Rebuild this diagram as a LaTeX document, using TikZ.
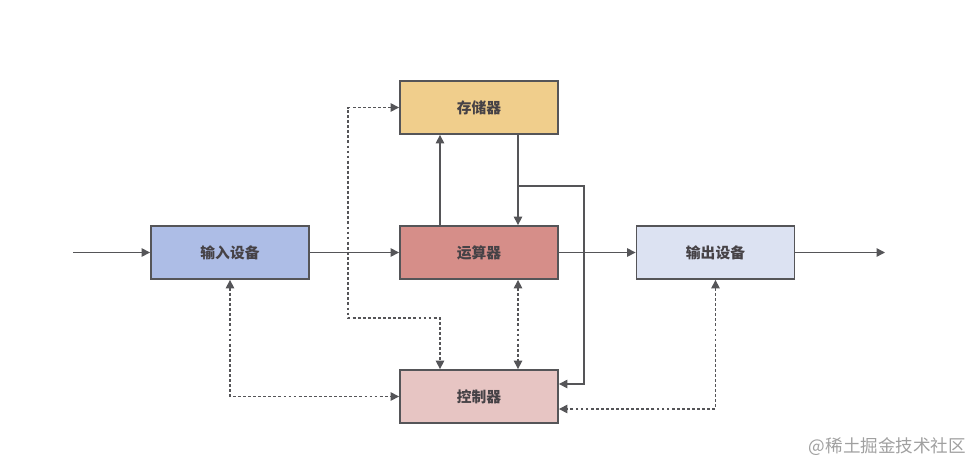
\documentclass[tikz,border=0pt]{standalone}
\usepackage{fontspec}
\setmainfont{Noto Sans CJK SC}
\usetikzlibrary{arrows.meta}

\newcommand{\sidegap}{0.975cm}
\newcommand{\busgap}{0.3125cm}

\begin{document}
\begin{tikzpicture}[x=0.025cm, y=-0.025cm,
    every node/.style={font=\fontsize{10.5}{12}\selectfont},
    unit/.style={draw=unitline, line width=1.3pt, minimum width=3.95cm, minimum height=1.325cm, text=unittext, font=\fontsize{10.5}{12}\selectfont\bfseries},
    flow/.style={draw=wireline, line width=1pt, -{Triangle[length=6pt,width=6pt]}},
    ctrlflow/.style={draw=wireline, line width=1pt, dash pattern=on 2pt off 1.6pt,
        {Triangle[length=6pt,width=6pt]}-{Triangle[length=6pt,width=6pt]}}]
    \definecolor{unitline}{RGB}{85,85,88}
    \definecolor{unittext}{RGB}{70,66,70}
    \definecolor{wireline}{RGB}{85,85,88}
    \definecolor{memfill}{RGB}{240,206,140}
    \definecolor{alufill}{RGB}{214,142,137}
    \definecolor{ctrlfill}{RGB}{231,197,195}
    \definecolor{infill}{RGB}{173,189,230}
    \definecolor{outfill}{RGB}{220,226,242}
    \definecolor{markgray}{RGB}{160,160,160}

    \useasboundingbox (0,0) rectangle (977,466);

    % Les cinq unités.
    \node[unit, fill=memfill] (mem) at (479,107.5) {存储器};
    \node[unit, fill=alufill] (alu) at (479,252.5) {运算器};
    \node[unit, fill=ctrlfill] (ctrl) at (479,396.5) {控制器};
    \node[unit, fill=infill] (input) at (230,252.5) {输入设备};
    \node[unit, fill=outfill] (output) at (715.5,252.5) {输出设备};

    \coordinate (src) at (73,252.5);
    \coordinate (sink) at (885,252.5);
    \coordinate (memtap) at (518,186);
    \coordinate (busturn) at (584,186);
    \coordinate (ctrlturn) at (348,318);

    % Flux de données.
    \draw[flow] (src) -- (input);
    \draw[flow] (input) -- (alu);
    \draw[flow] (alu) -- (output);
    \draw[flow] (output) -- (sink);
    \draw[flow] ([xshift=-\sidegap]alu.north) -- ([xshift=-\sidegap]mem.south);
    \draw[flow] ([xshift=\sidegap]mem.south) -- ([xshift=\sidegap]alu.north);
    \draw[flow] (memtap) -- (busturn) |- ([yshift=\busgap]ctrl.east);

    % Signaux de commande.
    \draw[ctrlflow] (mem.west) -| (ctrlturn) -| ([xshift=-\sidegap]ctrl.north);
    \draw[ctrlflow] ([xshift=\sidegap]alu.south) -- ([xshift=\sidegap]ctrl.north);
    \draw[ctrlflow] (input.south) |- (ctrl.west);
    \draw[ctrlflow] (output.south) |- ([yshift=-\busgap]ctrl.east);

    \node[anchor=east, text=markgray, font=\fontsize{12.5}{14}\selectfont] (mark) at (971,447) {@稀土掘金技术社区};
\end{tikzpicture}
\end{document}
